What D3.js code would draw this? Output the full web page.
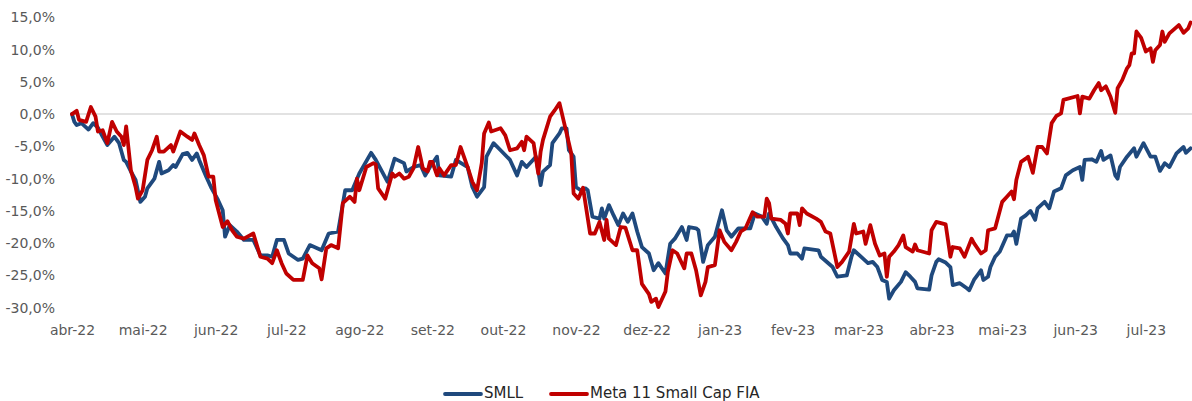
<!DOCTYPE html>
<html>
<head>
<meta charset="utf-8">
<script src="https://cdn.jsdelivr.net/npm/d3@7"></script>
<style>
  html, body { margin: 0; padding: 0; background: #fff; }
  svg { display: block; }
  .axis text { font-family: "DejaVu Sans", sans-serif; font-size: 14px; fill: #595959; }
  .legend text { font-family: "DejaVu Sans", sans-serif; font-size: 15px; fill: #262626; }
</style>
</head>
<body>
<svg id="chart" width="1192" height="401"></svg>
<script>
// dias corridos desde 01/04/2022 e retorno acumulado (%)
var inicio = new Date(2022, 3, 1);
var fim = new Date(2023, 6, 20);

var smllDias = [0,1,2,4,7,9,11,13,15,18,20,22,23,25,27,29,31,32,35,37,38,41,43,44,47,49,51,53,54,57,59,62,64,65,67,70,73,77,80,83,85,87,90,92,94,96,
  98,101,106,109,113,116,119,122,127,129,134,137,141,142,145,148,150,152,155,156,161,163,168,170,172,175,176,179,182,186,189,191,193,197,199,200,
  203,204,207,208,210,211,213,214,216,218,219,221,224,225,226,228,230,232,234,236,238,240,242,245,247,249,252,254,256,259,261,262,265,266,268,
  270,273,276,278,280,283,288,290,293,295,296,299,302,304,305,308,310,311,317,318,323,325,329,331,332,335,338,340,342,344,346,347,349,352,354,
  356,358,359,364,365,367,368,371,373,374,377,380,381,383,386,387,389,390,392,394,397,399,400,401,403,405,407,409,410,413,415,417,420,422,425,
  428,429,430,433,435,437,438,441,443,444,445,448,451,452,455,458,460,462,464,466,469,472,473,475];
var smllVals = [0,-1.2,-1.7,-1.4,-2.4,-1.4,-2.1,-3.5,-4.8,-3.5,-4.5,-7.1,-7.4,-8.9,-10.2,-13.6,-12.8,-11.5,-10.0,-7.4,-9.2,-8.7,-7.9,-8.2,-6.2,-6.0,-7.1,-6.1,-7.1,-9.7,-11.3,-13.3,-14.9,-19.0,-17.2,-18.2,-19.5,-19.5,-21.9,-21.9,-22.1,-19.5,-19.5,-21.6,-22.1,-22.6,
  -22.4,-20.3,-21.1,-18.5,-18.2,-11.8,-11.8,-9.2,-6.0,-7.1,-10.5,-6.9,-7.6,-8.9,-8.2,-7.9,-9.5,-8.2,-6.6,-9.5,-9.7,-7.1,-8.2,-11.3,-12.8,-11.3,-6.6,-4.5,-5.6,-7.1,-9.5,-7.4,-8.2,-6.6,-11.0,-8.9,
  -7.9,-4.5,-3.0,-2.2,-2.2,-5.6,-6.6,-11.3,-11.8,-11.5,-11.8,-15.9,-16.2,-14.6,-16.2,-14.1,-15.7,-17.2,-15.4,-16.7,-15.4,-18.2,-20.6,-21.6,-24.2,-23.1,-24.7,-20.1,-19.3,-17.5,-19.5,-17.5,-17.7,-18.0,-22.9,
  -20.3,-19.0,-14.9,-18.0,-19.0,-17.7,-17.7,-15.4,-15.9,-17.0,-15.4,-17.5,-19.3,-20.3,-21.6,-21.6,-22.4,-20.8,-21.1,-22.1,-23.7,-25.2,-25.0,-22.1,-21.1,-22.1,-23.1,-22.9,-23.7,-25.7,-26.0,-28.6,-27.3,-26.0,-24.5,
  -25.2,-26.0,-27.0,-27.2,-25.0,-22.9,-22.5,-23.0,-23.7,-26.5,-26.2,-27.0,-27.3,-25.7,-24.2,-25.7,-25.2,-23.7,-22.1,-21.3,-18.8,-18.8,-18.2,-20.1,-16.2,-15.7,-15.0,-16.4,-14.6,-13.6,-14.6,-12.0,-11.5,-9.5,-8.7,
  -8.2,-10.2,-7.1,-7.0,-7.4,-5.7,-7.1,-6.4,-9.5,-10.0,-8.2,-6.6,-5.3,-6.6,-4.5,-6.6,-6.6,-8.8,-7.6,-8.2,-6.1,-5.1,-6.0,-5.3];

var metaDias = [0,2,3,6,8,10,11,13,15,17,19,21,22,23,25,27,28,30,32,34,36,37,39,42,43,46,49,51,52,54,56,58,60,61,64,66,68,70,73,77,80,83,85,87,89,91,94,98,
  100,102,105,106,108,110,113,115,118,120,121,122,125,128,129,130,133,136,137,139,141,143,145,147,149,151,152,153,155,156,158,161,163,165,168,170,
  172,174,175,177,178,182,184,186,189,191,192,193,196,198,199,200,203,205,207,209,211,212,213,215,217,220,222,224,226,227,228,231,233,235,238,240,
  242,245,246,248,249,252,253,255,257,260,261,263,265,267,269,270,273,275,277,280,282,284,286,289,291,294,295,296,297,301,303,304,305,308,309,310,
  312,316,318,320,322,325,327,330,332,333,336,337,339,341,343,345,346,347,349,351,353,354,357,358,359,364,365,367,371,373,374,377,379,382,383,386,
  388,389,392,395,397,399,400,401,403,405,406,408,410,412,414,416,418,420,421,427,428,429,432,434,436,437,439,441,443,444,446,448,449,450,451,452,
  454,456,458,459,460,462,463,464,466,470,472,474,475];
var metaVals = [0,0.5,-0.9,-1.2,1.1,-0.4,-2.7,-2.5,-4.5,-1.2,-2.7,-3.5,-4.8,-1.9,-8.7,-11.3,-13.1,-11.8,-7.1,-5.6,-3.5,-5.8,-5.8,-4.8,-5.8,-2.7,-3.5,-4.0,-3.0,-4.8,-6.4,-9.7,-9.7,-13.3,-17.5,-16.6,-18.0,-19.0,-19.3,-18.5,-22.1,-22.4,-23.1,-21.1,-23.1,-24.7,-25.7,-25.7,
  -21.9,-23.1,-23.9,-25.6,-20.8,-20.3,-20.8,-13.8,-12.8,-13.6,-10.0,-11.8,-8.2,-7.6,-7.8,-11.5,-13.1,-9.2,-9.7,-9.2,-10.0,-9.7,-8.4,-5.1,-8.4,-8.9,-7.4,-7.4,-9.5,-8.4,-9.5,-7.9,-7.9,-5.1,-8.2,-10.5,
  -11.8,-7.6,-3.0,-1.3,-2.7,-2.2,-3.3,-5.6,-5.3,-4.3,-5.6,-3.5,-4.5,-9.2,-5.8,-4.0,-0.4,0.6,1.7,-1.4,-4.5,-6.1,-12.3,-13.1,-11.4,-18.5,-18.5,-16.7,-19.5,-16.4,-19.3,-20.3,-17.5,-17.6,-21.1,-21.1,
  -26.3,-27.9,-29.1,-28.6,-29.9,-27.5,-24.5,-21.1,-21.6,-23.9,-21.6,-21.6,-24.2,-28.1,-26.0,-23.7,-23.4,-18.0,-19.8,-21.1,-19.8,-18.2,-17.7,-15.2,-15.9,-15.9,-13.1,-13.8,-16.2,-16.4,-17.0,-18.5,-15.4,-15.4,-17.2,-14.6,
  -15.4,-16.2,-16.7,-18.2,-18.5,-23.7,-22.9,-21.3,-17.0,-18.5,-18.2,-20.1,-17.2,-20.1,-21.9,-21.6,-25.2,-22.1,-21.3,-20.3,-18.8,-20.6,-21.3,-20.2,-21.1,-21.6,-18.0,-16.7,-17.1,-22.1,-20.6,-20.8,-22.1,-19.3,-20.0,-21.6,
  -21.1,-18.0,-17.7,-13.6,-12.8,-12.0,-13.2,-10.2,-7.4,-6.9,-6.6,-9.1,-5.1,-5.1,-6.1,-1.4,-0.3,0.1,2.2,2.8,0.1,2.7,2.4,3.7,4.8,3.7,4.3,2.7,0.2,4.0,5.3,7.1,7.6,9.4,9.4,12.8,
  11.8,9.7,10.2,8.1,9.9,10.7,12.8,11.2,12.5,13.8,12.6,13.3,14.2];

var yTicks = [15, 10, 5, 0, -5, -10, -15, -20, -25, -30];
var mesesLabels = ["abr-22","mai-22","jun-22","jul-22","ago-22","set-22","out-22","nov-22","dez-22","jan-23","fev-23","mar-23","abr-23","mai-23","jun-23","jul-23"];
var seriesNomes = ["SMLL", "Meta 11 Small Cap FIA"];
var cores = ["#1F497D", "#C00000"];

var svg = d3.select("#chart");

var x = d3.scaleTime().domain([inicio, fim]).range([72, 1190.6]);
var y = d3.scaleLinear().domain([-30, 15]).range([307.7, 17.3]);

function toPoints(dias, vals) {
  return dias.map(function (d, i) {
    return { data: d3.timeDay.offset(inicio, d), v: vals[i] };
  });
}
var series = [toPoints(smllDias, smllVals), toPoints(metaDias, metaVals)];

// linha do zero
svg.append("line")
  .attr("x1", 72).attr("x2", 1192)
  .attr("y1", y(0)).attr("y2", y(0))
  .attr("stroke", "#D9D9D9").attr("stroke-width", 1.5);

// eixo Y
var yAxis = d3.axisLeft(y)
  .tickValues(yTicks)
  .tickSize(0)
  .tickPadding(0)
  .tickFormat(function (d) { return d3.format(".1f")(d).replace(".", ",").replace("−", "-") + "%"; });
svg.append("g").attr("class", "axis").attr("transform", "translate(55,0)").call(yAxis)
  .call(function (g) { g.select(".domain").remove(); });

// eixo X
var meses = d3.timeMonth.range(inicio, fim);
var xAxis = d3.axisBottom(x)
  .tickValues(meses)
  .tickSize(0)
  .tickPadding(6)
  .tickFormat(function (d, i) { return mesesLabels[i]; });
svg.append("g").attr("class", "axis").attr("transform", "translate(0,319)").call(xAxis)
  .call(function (g) { g.select(".domain").remove(); });

var line = d3.line()
  .x(function (d) { return x(d.data); })
  .y(function (d) { return y(d.v); });

svg.append("g").selectAll("path")
  .data(series)
  .join("path")
  .attr("d", line)
  .attr("fill", "none")
  .attr("stroke", function (d, i) { return cores[i]; })
  .attr("stroke-width", 3.8)
  .attr("stroke-linejoin", "round")
  .attr("stroke-linecap", "round");

// legenda
var legX = [445, 551];
var leg = svg.append("g").attr("class", "legend");
seriesNomes.forEach(function (nome, i) {
  leg.append("line")
    .attr("x1", legX[i]).attr("x2", legX[i] + 36)
    .attr("y1", 394).attr("y2", 394)
    .attr("stroke", cores[i]).attr("stroke-width", 3.8)
    .attr("stroke-linecap", "round");
  leg.append("text")
    .attr("x", legX[i] + 39).attr("y", 398)
    .text(nome);
});
</script>
</body>
</html>
